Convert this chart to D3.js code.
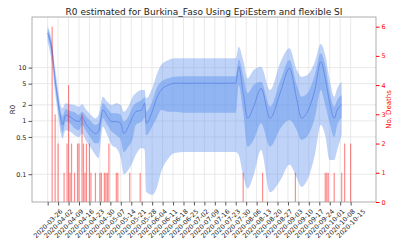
<!DOCTYPE html>
<html>
<head>
<meta charset="utf-8">
<script src="https://cdn.jsdelivr.net/npm/d3@7"></script>
<style>
body { margin: 0; background: #fff; }
text { font-family: "DejaVu Sans", sans-serif; }
</style>
</head>
<body>
<script>
// R0 estimate (median, 50% and 95% bands)
const rDates = ["2020-03-26","2020-03-29","2020-03-31","2020-04-02","2020-04-04","2020-04-05","2020-04-07","2020-04-10","2020-04-13","2020-04-16",
  "2020-04-18","2020-04-21","2020-04-24","2020-04-27","2020-04-29","2020-05-02","2020-05-05","2020-05-08","2020-05-11","2020-05-14",
  "2020-05-16","2020-05-19","2020-05-22","2020-05-24","2020-05-28","2020-05-30","2020-05-31","2020-06-04","2020-06-07","2020-06-10",
  "2020-06-15","2020-06-19","2020-06-26","2020-07-30","2020-08-01","2020-08-04","2020-08-07","2020-08-11","2020-08-16","2020-08-22",
  "2020-08-29","2020-09-04","2020-09-09","2020-09-12","2020-09-16","2020-09-21","2020-09-25","2020-09-28","2020-10-01","2020-10-04",
  "2020-10-06","2020-10-09"];
const rMed = [44.6,19.9,5.85,2.29,1.04,0.84,1.29,1.2,1.04,0.97,
  1.2,0.84,0.67,0.58,0.63,1.6,1.2,0.97,0.97,0.9,
  0.58,0.78,1.2,1.49,1.6,2.14,0.9,1.49,2.65,3.8,
  4.7,5.1,5.1,5.1,10.4,3.3,1.12,1.85,4.1,1.12,
  3.5,9.7,2.46,1.12,1.47,3.8,12.9,6.3,2.16,1.12,
  1.6,2.0];
const rHi50 = [53,24.4,7.3,2.85,1.39,1.23,1.65,1.53,1.45,1.29,
  1.49,1.2,0.97,0.84,0.9,2.14,1.72,1.39,1.39,1.29,
  0.97,1.2,1.85,2.14,2.46,2.8,1.49,2.29,4.1,5.4,
  6.3,6.75,6.9,6.9,14.4,7.3,3.3,4.7,5.4,1.85,
  5.85,13.9,4.7,2.85,3.3,7.3,18.6,11.2,3.45,1.85,
  2.46,3.06];
const rLo50 = [37.5,15.8,4.7,1.72,0.73,0.59,0.97,0.9,0.73,0.67,
  0.84,0.63,0.47,0.38,0.38,1.12,0.84,0.63,0.54,0.44,
  0.26,0.33,0.47,0.84,0.97,1.14,0.54,0.78,1.12,1.6,
  1.49,1.49,1.43,1.43,4.7,1.49,0.33,0.44,0.9,0.33,
  0.73,1.04,0.67,0.44,0.52,1.14,3.8,1.99,0.9,0.5,
  0.84,1.13];
const rHi95 = [60.3,28.6,9.7,3.8,1.85,1.75,2.14,2.05,1.99,1.85,
  2.05,1.6,1.29,1.12,1.29,2.85,2.29,1.99,2.14,1.99,
  1.49,1.85,2.85,3.3,3.8,3.8,2.65,4.1,7.3,11.2,
  13.9,14.9,14.9,14.9,24.7,13.9,6.3,9.0,10.4,3.8,
  12.7,23,9.0,6.75,7.3,12.7,27.6,17.2,5.85,2.85,
  4.1,5.35];
const rLo95 = [30.2,11.2,3.3,1.29,0.54,0.47,0.67,0.63,0.54,0.5,
  0.58,0.41,0.31,0.23,0.2,0.78,0.54,0.35,0.31,0.2,
  0.1,0.12,0.17,0.23,0.31,0.285,0.047,0.041,0.054,0.11,
  0.2,0.25,0.26,0.26,0.23,0.095,0.054,0.096,0.285,0.046,
  0.078,0.15,0.085,0.058,0.078,0.23,0.84,0.54,0.185,0.185,
  0.285,0.54];

// daily deaths
const deathDates = ["2020-03-29","2020-03-31","2020-04-02","2020-04-06","2020-04-08","2020-04-09","2020-04-10","2020-04-11","2020-04-13","2020-04-15",
  "2020-04-16","2020-04-18","2020-04-19","2020-04-20","2020-04-21","2020-04-23","2020-04-24","2020-04-27","2020-04-30","2020-05-01",
  "2020-05-03","2020-05-04","2020-05-05","2020-05-06","2020-05-11","2020-05-12","2020-05-20","2020-05-27","2020-08-04","2020-08-17",
  "2020-09-08","2020-09-28","2020-09-29","2020-09-30","2020-10-04","2020-10-09","2020-10-11","2020-10-15"];
const deaths = [6,3,2,1,2,4,1,2,1,2,
  2,3,2,1,2,2,1,1,1,1,
  1,1,1,2,1,1,1,1,1,1,
  1,1,1,1,1,1,2,2];

const xTicks = ["2020-03-26","2020-04-02","2020-04-09","2020-04-16","2020-04-23","2020-04-30","2020-05-07","2020-05-14","2020-05-21","2020-05-28",
  "2020-06-04","2020-06-11","2020-06-18","2020-06-25","2020-07-02","2020-07-09","2020-07-16","2020-07-23","2020-07-30","2020-08-06",
  "2020-08-13","2020-08-20","2020-08-27","2020-09-03","2020-09-10","2020-09-17","2020-09-24","2020-10-01","2020-10-08","2020-10-15"];
const rTicks = [0.1, 0.5, 1, 2, 5, 10];
const deathTicks = [0, 1, 2, 3, 4, 5, 6];

const w = 400, h = 250;
const pl = 32, pr = 376, pt = 17, pb = 202;
const parse = d3.timeParse("%Y-%m-%d");

const x = d3.scaleTime()
  .domain([new Date(2020, 2, 15, 12), new Date(2020, 10, 1)])
  .range([pl, pr]);
const y = d3.scaleLog().domain([0.0301, 89]).range([pb, pt]);
const y2 = d3.scaleLinear().domain([0, 6.33]).range([pb, pt]);

const svg = d3.select("body").append("svg")
  .attr("width", w)
  .attr("height", h);

// grid
svg.append("g").selectAll("line")
  .data(xTicks)
  .enter().append("line")
  .attr("x1", d => x(parse(d))).attr("x2", d => x(parse(d)))
  .attr("y1", pt).attr("y2", pb)
  .attr("stroke", "#e3e3e3").attr("stroke-width", 0.8);
svg.append("g").selectAll("line")
  .data(rTicks)
  .enter().append("line")
  .attr("x1", pl).attr("x2", pr)
  .attr("y1", d => y(d)).attr("y2", d => y(d))
  .attr("stroke", "#e3e3e3").attr("stroke-width", 0.8);

const rData = rDates.map((d, i) => ({
  date: parse(d), med: rMed[i], lo50: rLo50[i], hi50: rHi50[i], lo95: rLo95[i], hi95: rHi95[i]
}));

const band = (lo, hi) => d3.area()
  .x(d => x(d.date))
  .y0(d => y(d[lo]))
  .y1(d => y(d[hi]))
  .curve(d3.curveMonotoneX);

svg.append("path")
  .datum(rData)
  .attr("d", band("lo95", "hi95"))
  .attr("fill", "#6495ed")
  .attr("fill-opacity", 0.42);
svg.append("path")
  .datum(rData)
  .attr("d", band("lo50", "hi50"))
  .attr("fill", "#6495ed")
  .attr("fill-opacity", 0.5);
svg.append("path")
  .datum(rData)
  .attr("d", d3.line().x(d => x(d.date)).y(d => y(d.med)).curve(d3.curveMonotoneX))
  .attr("fill", "none")
  .attr("stroke", "#4f74e3")
  .attr("stroke-width", 0.8)
  .attr("stroke-opacity", 0.75);

// deaths bars
const dayW = x(new Date(2020, 0, 2)) - x(new Date(2020, 0, 1));
svg.append("g").selectAll("rect")
  .data(deathDates)
  .enter().append("rect")
  .attr("x", d => x(parse(d)) - dayW * 0.4)
  .attr("y", (d, i) => y2(deaths[i]))
  .attr("width", dayW * 0.8)
  .attr("height", (d, i) => pb - y2(deaths[i]))
  .attr("fill", "red")
  .attr("fill-opacity", 0.45);

// frame
svg.append("rect")
  .attr("x", pl).attr("y", pt)
  .attr("width", pr - pl).attr("height", pb - pt)
  .attr("fill", "none").attr("stroke", "#9a9a9a").attr("stroke-width", 0.8);

// left axis
const yAxis = d3.axisLeft(y).tickValues(rTicks).tickFormat(d3.format("")).tickSize(3.5).tickPadding(2);
const gy = svg.append("g").attr("transform", `translate(${pl},0)`).call(yAxis);
gy.select(".domain").remove();
gy.selectAll("line").attr("stroke", "#555");
gy.selectAll("text").attr("font-size", 6.5).attr("fill", "#222");

// right axis
const y2Axis = d3.axisRight(y2).tickValues(deathTicks).tickFormat(d3.format("d")).tickSize(3.5).tickPadding(2);
const gy2 = svg.append("g").attr("transform", `translate(${pr},0)`).call(y2Axis);
gy2.select(".domain").remove();
gy2.selectAll("line").attr("stroke", "red");
gy2.selectAll("text").attr("font-size", 6.5).attr("fill", "red");

// bottom axis
const xAxis = d3.axisBottom(x).tickValues(xTicks.map(parse)).tickFormat(d3.timeFormat("%Y-%m-%d")).tickSize(3.5);
const gx = svg.append("g").attr("transform", `translate(0,${pb})`).call(xAxis);
gx.select(".domain").remove();
gx.selectAll("line").attr("stroke", "#555");
gx.selectAll("text")
  .attr("font-size", 6.5)
  .attr("fill", "#222")
  .attr("text-anchor", "middle")
  .attr("dy", "0.32em")
  .attr("y", 0)
  .attr("transform", function() {
    const tw = this.getComputedTextLength();
    const bh = 0.707 * (tw + 6.5);
    return `translate(0,${6 + bh / 2}) rotate(-45)`;
  });

// labels
svg.append("text")
  .attr("x", (pl + pr) / 2).attr("y", 14.5)
  .attr("text-anchor", "middle")
  .attr("font-size", 9).attr("fill", "#222")
  .text("R0 estimated for Burkina_Faso Using EpiEstem and flexible SI");
svg.append("text")
  .attr("transform", `translate(14.5,${(pt + pb) / 2}) rotate(-90)`)
  .attr("text-anchor", "middle")
  .attr("font-size", 7).attr("fill", "#222")
  .text("R0");
svg.append("text")
  .attr("transform", `translate(391,${(pt + pb) / 2}) rotate(-90)`)
  .attr("text-anchor", "middle")
  .attr("font-size", 7).attr("fill", "red")
  .text("No. Deaths");
</script>
</body>
</html>
